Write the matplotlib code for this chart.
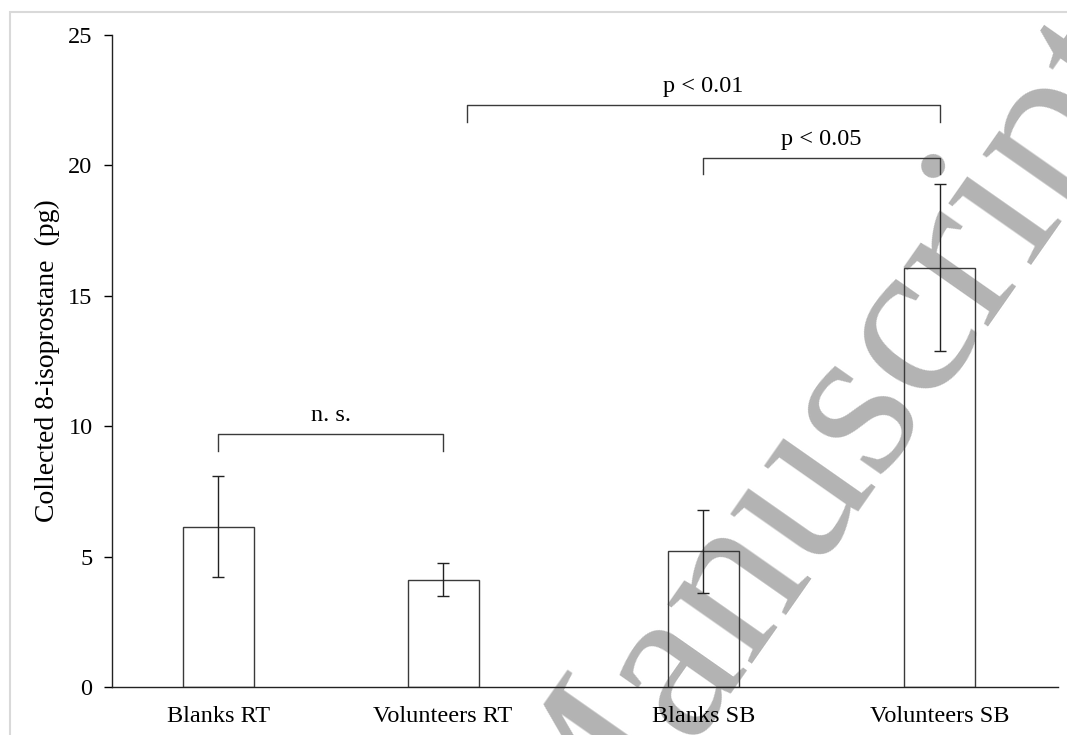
import matplotlib
matplotlib.use('Agg')
import matplotlib.pyplot as plt
from matplotlib.patches import Rectangle

plt.rcParams['font.family'] = ['Liberation Serif', 'DejaVu Serif']

# data
categories = ['Blanks RT', 'Volunteers RT', 'Blanks SB', 'Volunteers SB']
means = [6.15, 4.12, 5.2, 16.07]
errors = [1.95, 0.62, 1.6, 3.2]
x_pos = [-0.05, 0.9, 2.0, 3.0]

# significance brackets: (x left, x right, bar height, leg bottom, label)
brackets = [
    (-0.05, 0.9, 9.71, 9.05, 'n. s.'),
    (1.0, 3.0, 22.3, 21.65, 'p < 0.01'),
    (2.0, 3.0, 20.3, 19.67, 'p < 0.05'),
]

W, H = 1067, 735
fig = plt.figure(figsize=(W / 100, H / 100), dpi=100)
ax = fig.add_axes([112 / W, 1 - 687 / H, (1058 - 112) / W, (687 - 35) / H])
ax.patch.set_visible(False)

ax.bar(x_pos, means, width=0.3, facecolor='none', edgecolor='#3a3a3a', linewidth=1.0)
ax.errorbar(x_pos, means, yerr=errors, fmt='none', ecolor='#222222',
            elinewidth=1.0, capsize=4, capthick=1.0)

for x1, x2, y, y0, lab in brackets:
    ax.plot([x1, x1, x2, x2], [y0, y, y, y0], color='#3a3a3a', lw=1.0)
    ax.text((x1 + x2) / 2, y + 0.5, lab, ha='center', va='baseline', fontsize=17.5)

ax.set_xlim(-0.5, 3.5)
ax.set_ylim(0, 25)
ax.set_yticks([0, 5, 10, 15, 20, 25])
ax.set_xticks(x_pos)
ax.set_xticklabels(categories)
ax.tick_params(axis='x', length=0, pad=14, labelsize=17.5)
ax.tick_params(axis='y', length=6, width=1, direction='out', pad=8, labelsize=17.5)
for s in ['top', 'right']:
    ax.spines[s].set_visible(False)
for s in ['left', 'bottom']:
    ax.spines[s].set_color('#222222')
    ax.spines[s].set_linewidth(1.0)

ax.set_ylabel('Collected 8-isoprostane  (pg)', fontsize=20)
ax.yaxis.set_label_coords(-0.068, 0.5)
ax.yaxis.label.set_verticalalignment('center')

# outer chart frame
fig.patches.append(Rectangle((10 / W, -0.1), 1.2, 1 - 12 / H + 0.1, transform=fig.transFigure,
                             fill=False, edgecolor='#d9d9d9', lw=1.5, zorder=-2))

# watermark
fig.text(575 / W, 1 - 907 / H, 'Manuscript', fontsize=162, color='#b3b3b3',
         rotation=55, rotation_mode='anchor', ha='left', va='baseline', zorder=-1)

fig.savefig('out.png', dpi=100)
